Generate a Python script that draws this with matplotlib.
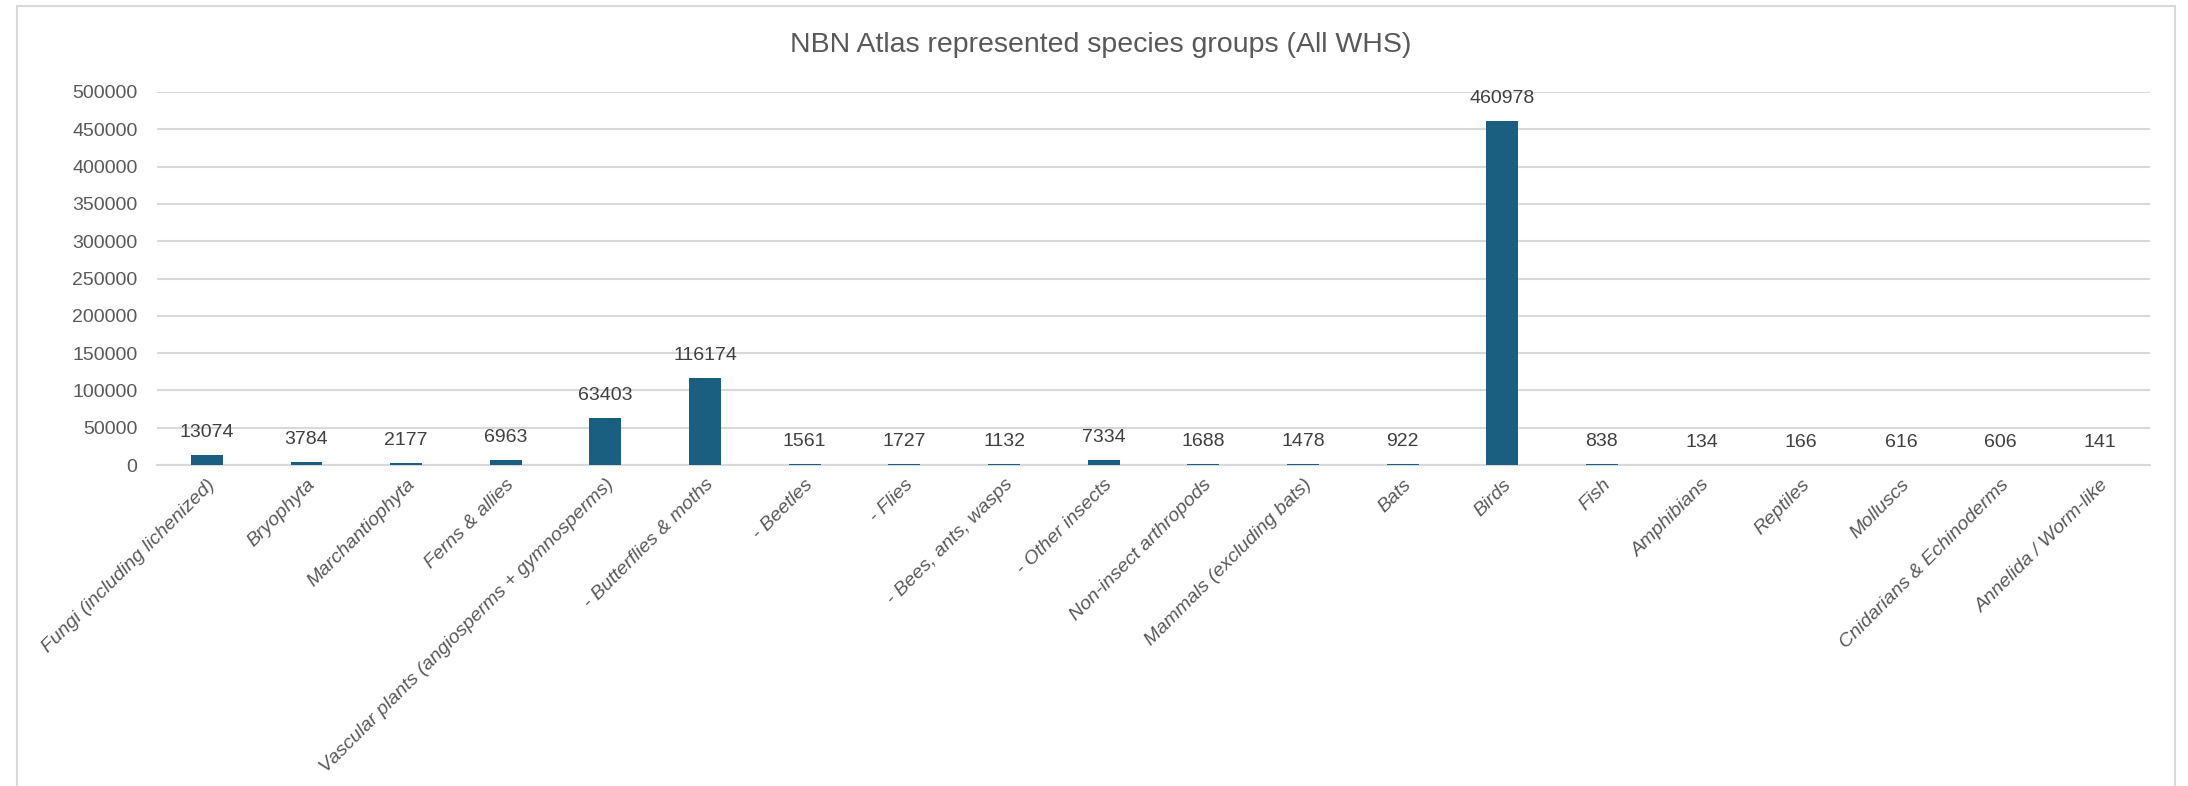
import matplotlib
matplotlib.use("Agg")
import matplotlib.pyplot as plt
from matplotlib.patches import Rectangle

# Dữ liệu
categories = ["Fungi (including lichenized)", "Bryophyta", "Marchantiophyta", "Ferns & allies",
              "Vascular plants (angiosperms + gymnosperms)", "- Butterflies & moths", "- Beetles",
              "- Flies", "- Bees, ants, wasps", "- Other insects", "Non-insect arthropods",
              "Mammals (excluding bats)", "Bats", "Birds", "Fish", "Amphibians", "Reptiles",
              "Molluscs", "Cnidarians & Echinoderms", "Annelida / Worm-like"]
counts = [13074, 3784, 2177, 6963, 63403, 116174, 1561, 1727, 1132, 7334, 1688, 1478,
          922, 460978, 838, 134, 166, 616, 606, 141]
yticks = list(range(0, 500001, 50000))

plt.rcParams["font.family"] = ["Liberation Sans", "DejaVu Sans"]

bar_color = "#1a5f80"
txt_color = "#595959"

fig = plt.figure(figsize=(21.88, 7.86), dpi=100)
# khung viền của biểu đồ
fig.patches.append(Rectangle((17 / 2188, -0.05), (2175 - 17) / 2188, 1.05 - 6 / 786,
                             transform=fig.transFigure, fill=False, edgecolor="#d9d9d9", lw=1.5))

ax = fig.add_axes([157 / 2188, 1 - 465 / 786, (2150 - 157) / 2188, (465 - 92) / 786])
x = range(len(categories))
ax.bar(x, counts, width=0.32, color=bar_color, zorder=3)

for xi, v in zip(x, counts):
    ax.annotate(str(v), (xi, v), xytext=(0, 10), textcoords="offset points",
                ha="center", va="bottom", fontsize=14, color="#404040")

ax.set_ylim(0, 500000)
ax.set_xlim(-0.5, len(categories) - 0.5)
ax.set_yticks(yticks)
ax.set_yticklabels([str(t) for t in yticks], fontsize=14, color=txt_color)
ax.yaxis.grid(True, color="#d9d9d9", lw=1.5, zorder=0)
ax.set_xticks(list(x))
ax.set_xticklabels(categories, rotation=45, ha="right", rotation_mode="anchor",
                   fontsize=14, color=txt_color, style="italic")
ax.tick_params(length=0)
ax.tick_params(axis="y", pad=14)
ax.tick_params(axis="x", pad=8)
for s in ["top", "right", "left"]:
    ax.spines[s].set_visible(False)
ax.spines["bottom"].set_color("#d9d9d9")
ax.spines["bottom"].set_linewidth(1.5)

fig.text(1101 / 2188, 1 - 45 / 786, "NBN Atlas represented species groups (All WHS)",
         ha="center", va="center", fontsize=20.5, color=txt_color)

fig.savefig("out.png", dpi=100, facecolor="white")
